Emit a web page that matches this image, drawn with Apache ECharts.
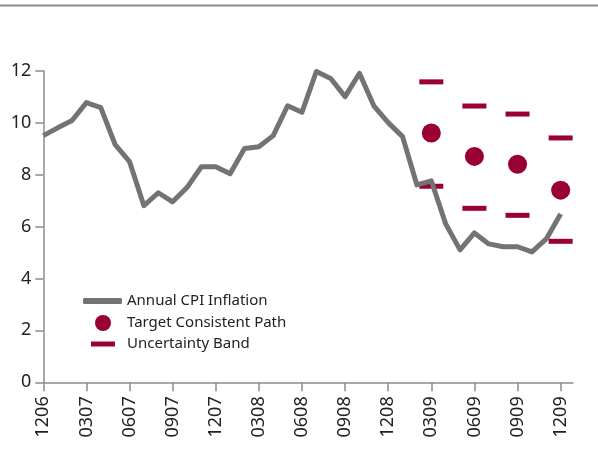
<!DOCTYPE html>
<html>
<head>
<meta charset="utf-8">
<script src="https://cdn.jsdelivr.net/npm/echarts@6/dist/echarts.min.js"></script>
<style>
  html, body { margin: 0; padding: 0; background: #fff; }
  #chart { width: 598px; height: 458px; }
</style>
</head>
<body>
<div id="chart"></div>
<script>
// monthly CPI, Dec 2006 .. Dec 2009 (index 0..36)
var cpi = [9.5, 9.8, 10.08, 10.77, 10.58, 9.15, 8.5, 6.8, 7.3, 6.95, 7.5, 8.3, 8.3,
  8.03, 9.0, 9.07, 9.5, 10.65, 10.4, 11.97, 11.7, 11.0, 11.9, 10.65, 10.0, 9.46,
  7.6, 7.76, 6.1, 5.1, 5.75, 5.33, 5.22, 5.22, 5.02, 5.52, 6.48];

// quarterly tick labels, every 3rd month
var tickLabels = ['1206', '0307', '0607', '0907', '1207', '0308', '0608',
  '0908', '1208', '0309', '0609', '0909', '1209'];

// target path and band, at month index
var targetMonths = [27, 30, 33, 36];
var targetPath = [9.6, 8.7, 8.4, 7.4];
var bandUpper = [11.57, 10.64, 10.33, 9.41];
var bandLower = [7.55, 6.7, 6.43, 5.43];

var red = '#990033';
var grey = '#737373';
var axisGrey = '#8c8c8c';
var font = '"Noto Sans", "Open Sans", sans-serif';

function pairs(xs, ys) {
  return xs.map(function (x, i) { return [x, ys[i]]; });
}

var chart = echarts.init(document.getElementById('chart'));

chart.setOption({
  animation: false,
  textStyle: { fontFamily: font },
  graphic: [{
    type: 'line',
    shape: { x1: 0, y1: 5.5, x2: 598, y2: 5.5 },
    style: { stroke: axisGrey, lineWidth: 2 }
  }],
  grid: { left: 43.3, right: 25, top: 70.7, bottom: 75.7 },
  legend: [
    {
      left: 78, top: 286, itemWidth: 39, itemHeight: 6,
      data: [{ name: 'Annual CPI Inflation', icon: 'roundRect' }],
      textStyle: { fontSize: 15, color: '#222', lineHeight: 20, padding: [0, 0, 0, 0] }
    },
    {
      left: 90, top: 308, itemWidth: 16, itemHeight: 16,
      data: [{ name: 'Target Consistent Path', icon: 'circle' }],
      textStyle: { fontSize: 15, color: '#222', lineHeight: 20, padding: [0, 0, 0, 11] }
    },
    {
      left: 86, top: 329, itemWidth: 24, itemHeight: 5,
      data: [{ name: 'Uncertainty Band', icon: 'rect' }],
      textStyle: { fontSize: 15, color: '#222', lineHeight: 20, padding: [0, 0, 0, 7] }
    }
  ],
  xAxis: {
    type: 'value',
    min: 0,
    max: 36.86,
    splitLine: { show: false },
    axisLine: { lineStyle: { color: axisGrey, width: 1.5 } },
    axisTick: {
      length: 9,
      customValues: tickLabels.map(function (t, i) { return i * 3; }),
      lineStyle: { color: axisGrey, width: 1.5 }
    },
    axisLabel: {
      customValues: tickLabels.map(function (t, i) { return i * 3; }),
      rotate: 90,
      margin: 14,
      fontSize: 18,
      color: '#222',
      formatter: function (v) { return tickLabels[Math.round(v / 3)]; }
    }
  },
  yAxis: {
    type: 'value',
    min: 0,
    max: 12,
    interval: 2,
    splitLine: { show: false },
    axisLine: { show: true, lineStyle: { color: axisGrey, width: 1.5 } },
    axisTick: { show: true, length: 8, lineStyle: { color: axisGrey, width: 1.5 } },
    axisLabel: { fontSize: 18, color: '#222', margin: 12 }
  },
  series: [
    {
      name: 'Annual CPI Inflation',
      type: 'line',
      data: cpi.map(function (v, i) { return [i, v]; }),
      showSymbol: false,
      symbol: 'none',
      color: grey,
      lineStyle: { color: grey, width: 5, join: 'round' }
    },
    {
      name: 'Uncertainty Band',
      type: 'scatter',
      data: pairs(targetMonths, bandUpper).concat(pairs(targetMonths, bandLower)),
      symbol: 'rect',
      symbolSize: [24, 5],
      itemStyle: { color: red, opacity: 1 }
    },
    {
      name: 'Target Consistent Path',
      type: 'scatter',
      data: pairs(targetMonths, targetPath),
      symbol: 'circle',
      symbolSize: 19,
      itemStyle: { color: red, opacity: 1 }
    }
  ]
});
</script>
</body>
</html>
